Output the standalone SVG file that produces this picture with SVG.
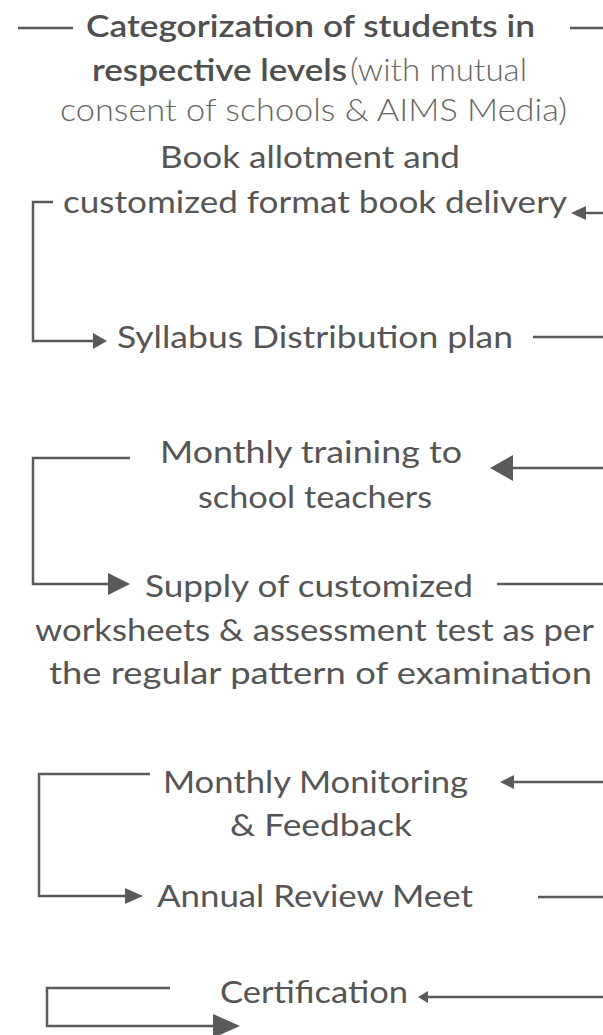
<svg xmlns="http://www.w3.org/2000/svg" width="603" height="1035" viewBox="0 0 603 1035">
<style>
text{font-family:"Lato","Noto Sans","Liberation Sans",sans-serif;font-size:31px;fill:#555;}
.b{font-weight:600;fill:#4f4f4f;}
.l{font-weight:300;fill:#666;}
.c line,.c path{stroke:#5a5a5a;stroke-width:2.5;fill:none;}
.c polygon{fill:#5a5a5a;}
</style>
<rect width="603" height="1035" fill="#ffffff"/>
<g id="n1">
<text x="86" y="37" class="b" textLength="449" lengthAdjust="spacingAndGlyphs">Categorization of students in</text>
<text x="92" y="81" class="b" textLength="255" lengthAdjust="spacingAndGlyphs">respective levels</text>
<text x="350" y="81" class="l" textLength="177" lengthAdjust="spacingAndGlyphs">(with mutual</text>
<text x="60" y="121" class="l" textLength="507" lengthAdjust="spacingAndGlyphs">consent of schools &amp; AIMS Media)</text>
</g>
<g id="n2">
<text x="160" y="168" textLength="300" lengthAdjust="spacingAndGlyphs">Book allotment and</text>
<text x="63" y="213" textLength="504" lengthAdjust="spacingAndGlyphs">customized format book delivery</text>
</g>
<g id="n3">
<text x="117" y="348" textLength="396" lengthAdjust="spacingAndGlyphs">Syllabus Distribution plan</text>
</g>
<g id="n4">
<text x="160" y="463" textLength="302" lengthAdjust="spacingAndGlyphs">Monthly training to</text>
<text x="198" y="508" textLength="234" lengthAdjust="spacingAndGlyphs">school teachers</text>
</g>
<g id="n5">
<text x="145" y="597" textLength="328" lengthAdjust="spacingAndGlyphs">Supply of customized</text>
<text x="35" y="641" textLength="559" lengthAdjust="spacingAndGlyphs">worksheets &amp; assessment test as per</text>
<text x="49" y="684" textLength="543" lengthAdjust="spacingAndGlyphs">the regular pattern of examination</text>
</g>
<g id="n6">
<text x="163" y="793" textLength="305" lengthAdjust="spacingAndGlyphs">Monthly Monitoring</text>
<text x="230" y="836" textLength="182" lengthAdjust="spacingAndGlyphs">&amp; Feedback</text>
</g>
<g id="n7">
<text x="157" y="907" textLength="316" lengthAdjust="spacingAndGlyphs">Annual Review Meet</text>
</g>
<g id="n8">
<text x="220" y="1003" textLength="188" lengthAdjust="spacingAndGlyphs">Certification</text>
</g>
<g id="connectors" class="c">
<line x1="18" y1="28" x2="73" y2="28"/>
<line x1="570" y1="28" x2="603" y2="28"/>
<line x1="584" y1="213" x2="603" y2="213"/>
<polygon points="571,213 586,206 586,220"/>
<path d="M53,202 H33 V341 H94"/>
<polygon points="107,341 93,333 93,349"/>
<line x1="533" y1="337" x2="603" y2="337"/>
<line x1="512" y1="468" x2="603" y2="468"/>
<polygon points="490,468 513,455 513,481"/>
<path d="M130,458 H33 V584 H109"/>
<polygon points="130,584 108,573 108,595"/>
<line x1="497" y1="584" x2="603" y2="584"/>
<line x1="512" y1="782" x2="603" y2="782"/>
<polygon points="500,782 514,775 514,789"/>
<path d="M150,774 H39 V896 H126"/>
<polygon points="143,896 125,888 125,904"/>
<line x1="538" y1="897" x2="603" y2="897"/>
<line x1="426" y1="997" x2="603" y2="997"/>
<polygon points="418,997 428,991 428,1003"/>
<path d="M170,988 H47 V1026 H214"/>
<polygon points="240,1026 213,1014 213,1038"/>
</g>
</svg>
